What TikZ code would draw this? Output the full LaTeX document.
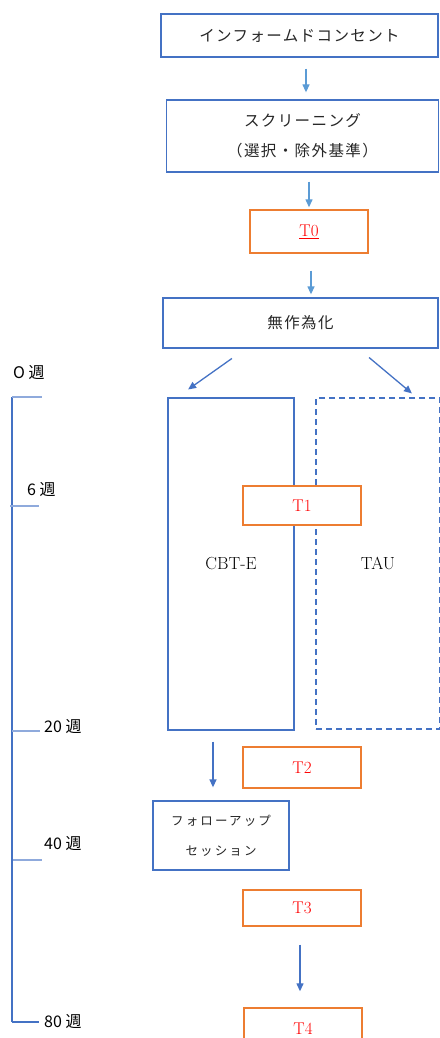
\documentclass[tikz,border=0pt]{standalone}
\usepackage{fontspec}
\newfontfamily\jp{Noto Sans CJK JP}
\newfontfamily\jpw[LetterSpace=9]{Noto Sans CJK JP}
\newfontfamily\jpf[LetterSpace=17]{Noto Sans CJK JP}
\usetikzlibrary{arrows.meta}
\definecolor{bbox}{HTML}{4472C4}
\definecolor{larr}{HTML}{5B9BD5}
\definecolor{obox}{HTML}{ED7D31}
\definecolor{tick}{HTML}{8FAADC}
\definecolor{jtxt}{HTML}{262626}
\tikzset{
  bluebox/.style={draw=bbox, line width=1.3pt, fill=white, inner sep=0pt, align=center, text=jtxt},
  orbox/.style={draw=obox, line width=1.4pt, fill=white, inner sep=0pt, text=red, font=\fontsize{17}{20}\selectfont},
  jtext/.style={font=\jpw\fontsize{15.5}{30}\selectfont},
  arrl/.style={draw=larr, line width=1.3pt, -{Triangle[width=7pt,length=8pt]}},
  arrd/.style={draw=bbox, line width=1.3pt, -{Triangle[width=7pt,length=8pt]}},
  tline/.style={draw=bbox, line width=1.1pt},
  tickl/.style={draw=tick, line width=1.1pt},
  wlabel/.style={anchor=west, inner sep=0pt, text=black, font=\jp\fontsize{16}{18}\selectfont},
}
\begin{document}
\begin{tikzpicture}[x=1pt,y=-1pt]
\useasboundingbox (0,0) rectangle (439,1038);
% boxes
\node[bluebox, jtext, minimum width=277pt, minimum height=43pt] (ic) at (299.5,35.5) {インフォームドコンセント};
\node[bluebox, jtext, minimum width=272pt, minimum height=72pt] (scr) at (302.5,136) {スクリーニング\\（選択・除外基準）};
\node[orbox, minimum width=118pt, minimum height=43pt] (t0) at (309,231.5) {\underline{T0}};
\node[bluebox, jtext, minimum width=275pt, minimum height=50pt] (rand) at (300.5,323) {無作為化};
\node[bluebox, minimum width=126pt, minimum height=332pt, font=\fontsize{17.5}{20}\selectfont, text=black] (cbt) at (231,564) {CBT-E};
\node[bluebox, dashed, dash pattern=on 6pt off 4pt, minimum width=124pt, minimum height=331pt, font=\fontsize{17.5}{20}\selectfont, text=black] (tau) at (378,563.5) {TAU};
\node[orbox, minimum width=118pt, minimum height=39pt] (t1) at (302,505.5) {T1};
\node[orbox, minimum width=118pt, minimum height=41pt] (t2) at (302,767.5) {T2};
\node[bluebox, minimum width=136pt, minimum height=69pt, font=\jpf\fontsize{12.5}{30}\selectfont] (fu) at (221,835.5) {フォローアップ\\セッション};
\node[orbox, minimum width=118pt, minimum height=36pt] (t3) at (302,908) {T3};
\node[orbox, minimum width=118pt, minimum height=42pt] (t4) at (303,1029) {T4};
% arrows
\draw[arrl, shorten <=11pt, shorten >=7pt] ([xshift=6.5pt]ic.south) -- ([xshift=3.5pt]scr.north);
\draw[arrl, shorten <=9pt, shorten >=2pt] ([xshift=6.5pt]scr.south) -- (t0.north);
\draw[arrl, shorten <=17pt, shorten >=3pt] ([xshift=2pt]t0.south) -- ([xshift=10.5pt]rand.north);
\draw[arrd, shorten <=17pt, shorten >=13.6pt] ([xshift=-54.75pt]rand.south) -- ([xshift=-54pt]cbt.north);
\draw[arrd, shorten <=13.8pt, shorten >=6.1pt] ([xshift=58pt]rand.south) -- ([xshift=38.6pt]tau.north);
\draw[arrd, shorten <=11pt, shorten >=13pt] ([xshift=-18pt]cbt.south) -- ([xshift=-8pt]fu.north);
\draw[arrd, shorten <=18pt, shorten >=16pt] ([xshift=-2pt]t3.south) -- ([xshift=-3pt]t4.north);
% timeline
\coordinate (w0) at (12,397);
\coordinate (w80) at (12,1022);
\draw[tline] (w0) -- (w80);
\draw[tickl] (w0) -- (42,397);
\draw[tickl] (10,506) -- (39,506);
\draw[tickl] (12,731) -- (40,731);
\draw[tickl] (13,860) -- (42,860);
\draw[tline] (w80) -- (39,1022);
\node[wlabel] (l0) at (13,373) {O 週};
\node[wlabel] (l6) at (27,490) {6 週};
\node[wlabel] (l20) at (44,727) {20 週};
\node[wlabel] (l40) at (44,844) {40 週};
\node[wlabel] (l80) at (44,1022) {80 週};
\end{tikzpicture}
\end{document}
